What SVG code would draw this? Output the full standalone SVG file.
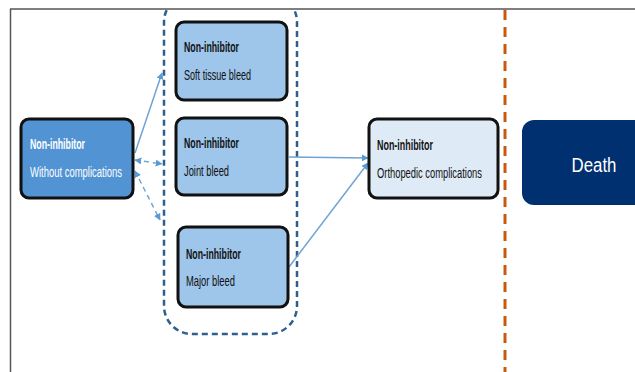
<svg xmlns="http://www.w3.org/2000/svg" width="635" height="372" viewBox="0 0 635 372">
  <defs>
    <style>
      .node { stroke: #111; stroke-width: 3; }
      .t { font-family: "Liberation Sans Narrow", "Liberation Sans", Arial, sans-serif; font-size: 15.5px; }
      .b { font-weight: bold; }
      .conn { stroke: #6fa3d6; stroke-width: 1.5; fill: none; }
      .dash { stroke-dasharray: 5 4; }
    </style>
    <marker id="ah" viewBox="0 0 10 10" refX="9" refY="5" markerWidth="7" markerHeight="7" orient="auto-start-reverse" markerUnits="userSpaceOnUse">
      <path d="M0,0 L10,5 L0,10 z" fill="#5b9bd5"/>
    </marker>
    <clipPath id="frameClip">
      <rect x="0" y="10" width="635" height="362"/>
    </clipPath>
  </defs>

  <rect x="0" y="0" width="635" height="372" fill="#ffffff"/>

  <!-- frame -->
  <g id="frame" stroke="#555" stroke-width="1.5" fill="none">
    <line x1="10" y1="9" x2="635" y2="9"/>
    <line x1="10.5" y1="9" x2="10.5" y2="372"/>
  </g>

  <!-- dashed group container -->
  <g id="container" clip-path="url(#frameClip)">
    <rect x="164" y="-6" width="133" height="340" rx="28" fill="none" stroke="#2f5f8f" stroke-width="2.5" stroke-dasharray="6 4"/>
  </g>

  <!-- orange dashed separator -->
  <g id="separator">
    <line x1="505" y1="10" x2="505" y2="372" stroke="#c55a11" stroke-width="3" stroke-dasharray="10 7"/>
  </g>

  <!-- connectors -->
  <g id="connectors">
    <line class="conn" x1="135" y1="153" x2="162" y2="73" marker-end="url(#ah)"/>
    <line class="conn dash" x1="135" y1="160" x2="162" y2="164" marker-start="url(#ah)" marker-end="url(#ah)"/>
    <line class="conn dash" x1="135" y1="171" x2="160" y2="220" marker-start="url(#ah)" marker-end="url(#ah)"/>
    <line class="conn" x1="289" y1="157" x2="368" y2="158" marker-end="url(#ah)"/>
    <line class="conn" x1="289" y1="267" x2="368" y2="163" marker-end="url(#ah)"/>
  </g>

  <!-- nodes -->
  <g id="node-without">
    <rect class="node" x="21" y="119" width="112" height="79" rx="8" fill="#5293d3"/>
    <text class="t b" x="30" y="149" fill="#ffffff" textLength="55" lengthAdjust="spacingAndGlyphs">Non-inhibitor</text>
    <text class="t" x="30" y="177" fill="#ffffff" textLength="92" lengthAdjust="spacingAndGlyphs">Without complications</text>
  </g>

  <g id="node-soft">
    <rect class="node" x="176" y="22" width="111" height="78" rx="8" fill="#9ec5ea"/>
    <text class="t b" x="184" y="52" fill="#111" textLength="55" lengthAdjust="spacingAndGlyphs">Non-inhibitor</text>
    <text class="t" x="184" y="80" fill="#111" textLength="67" lengthAdjust="spacingAndGlyphs">Soft tissue bleed</text>
  </g>

  <g id="node-joint">
    <rect class="node" x="176" y="118" width="111" height="77" rx="8" fill="#9ec5ea"/>
    <text class="t b" x="184" y="148" fill="#111" textLength="55" lengthAdjust="spacingAndGlyphs">Non-inhibitor</text>
    <text class="t" x="184" y="176" fill="#111" textLength="45" lengthAdjust="spacingAndGlyphs">Joint bleed</text>
  </g>

  <g id="node-major">
    <rect class="node" x="178" y="227" width="110" height="80" rx="8" fill="#9ec5ea"/>
    <text class="t b" x="186" y="259" fill="#111" textLength="55" lengthAdjust="spacingAndGlyphs">Non-inhibitor</text>
    <text class="t" x="186" y="286" fill="#111" textLength="49" lengthAdjust="spacingAndGlyphs">Major bleed</text>
  </g>

  <g id="node-ortho">
    <rect class="node" x="369" y="119" width="129" height="79" rx="8" fill="#deebf7"/>
    <text class="t b" x="377" y="150" fill="#111" textLength="56" lengthAdjust="spacingAndGlyphs">Non-inhibitor</text>
    <text class="t" x="377" y="178" fill="#111" textLength="105" lengthAdjust="spacingAndGlyphs">Orthopedic complications</text>
  </g>

  <g id="node-death">
    <rect x="522" y="120" width="130" height="85" rx="12" fill="#003070"/>
    <text x="594" y="172" text-anchor="middle" fill="#ffffff" font-family="'Liberation Sans', Arial, sans-serif" font-size="20" textLength="45" lengthAdjust="spacingAndGlyphs">Death</text>
  </g>
</svg>
